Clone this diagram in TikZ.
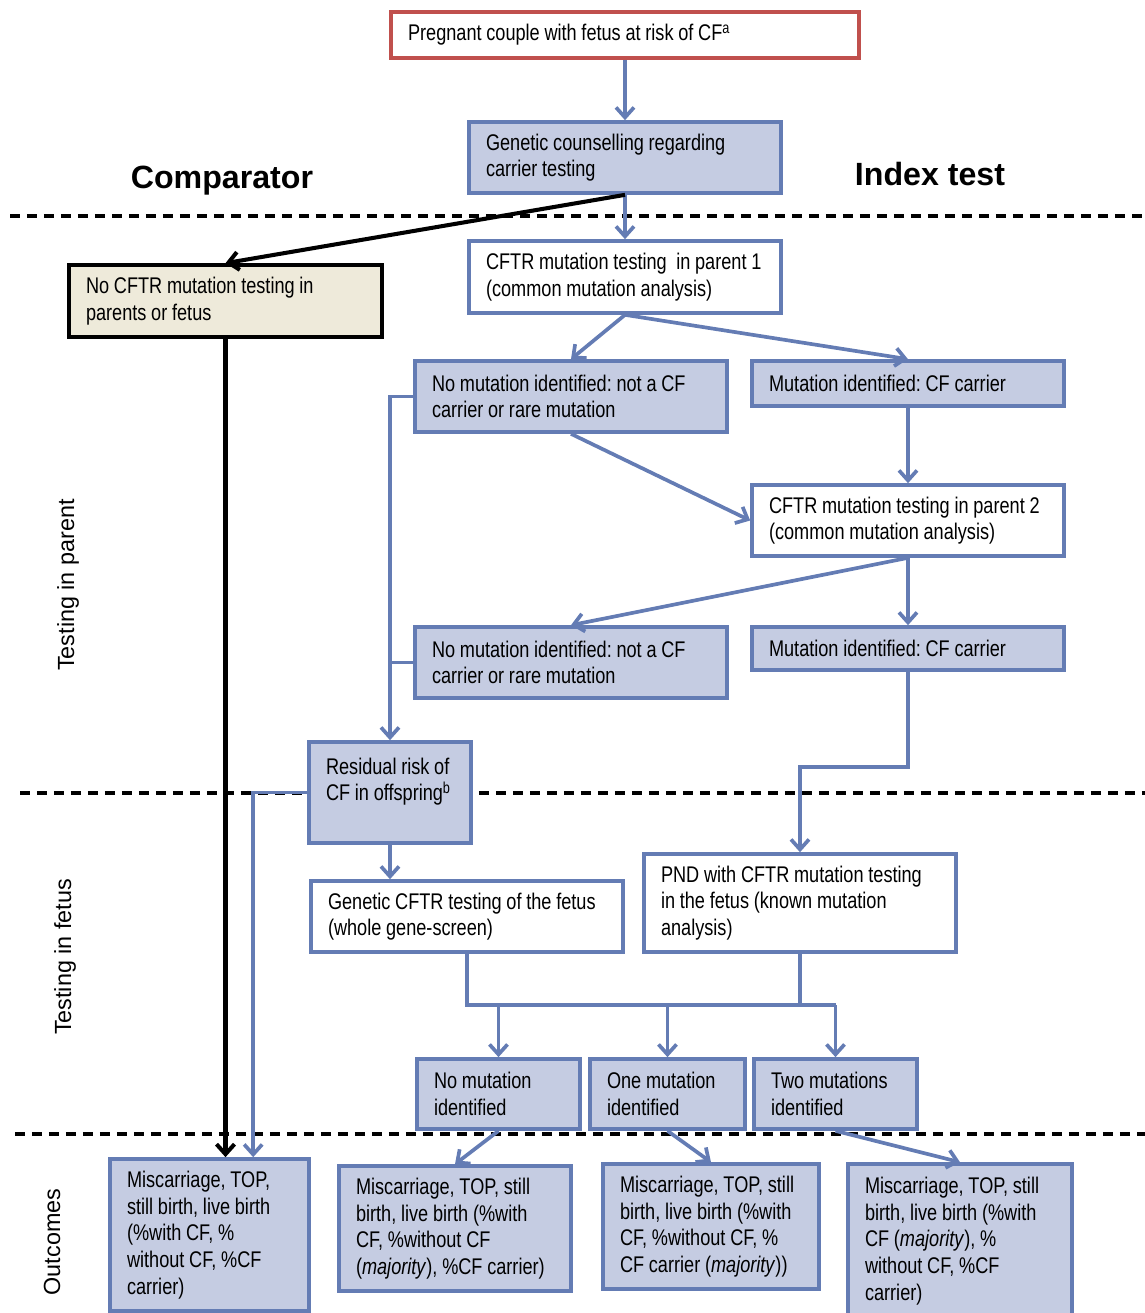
\documentclass[tikz,border=0pt]{standalone}
\usepackage{fontspec}
\setmainfont{Liberation Sans}
\newfontfamily\boxfont[FakeStretch=0.8]{Liberation Sans}
\usetikzlibrary{arrows.meta,positioning,calc}

\definecolor{cfblue}{RGB}{100,124,180}
\definecolor{cffill}{RGB}{197,204,226}
\definecolor{cfred}{RGB}{192,80,77}
\definecolor{cfbeige}{RGB}{238,234,218}

\begin{document}
\begin{tikzpicture}[
  x=0.02cm, y=-0.02cm,
  >={Straight Barb[length=0.2cm,width=0.36cm]},
  box/.style={draw=cfblue, line width=2.1pt, align=left, inner xsep=0.34cm, inner ysep=0pt,
    font=\boxfont\fontsize{12.9}{15.2}\selectfont,
    execute at begin node={\frenchspacing\spaceskip=2.7pt plus 1pt\relax}},
  shaded/.style={box, fill=cffill},
  plain/.style={box, fill=white},
  conn/.style={draw=cfblue, line width=2.1pt},
  bconn/.style={draw=black, line width=2.3pt},
  divider/.style={draw=black, line width=1.9pt, dash pattern=on 0.21cm off 0.13cm},
  title/.style={font=\bfseries\fontsize{18.3}{22}\selectfont},
  side/.style={font=\fontsize{13.3}{16}\selectfont, rotate=90}
]
\useasboundingbox (0,0) rectangle (1145,1313);

% section dividers
\draw[divider] (10,216) -- (1145,216);
\draw[divider] (20,793) -- (1145,793);
\draw[divider] (15,1134) -- (1145,1134);

\node[title] (comp) at (222,181) {Comparator};
\node[title] (index) at (930,174) {Index test};
\node[side] (lblparent) at (68,585) {Testing in parent};
\node[side] (lblfetus) at (65,957) {Testing in fetus};
\node[side] (lbloutcomes) at (52,1242) {Outcomes};

% parents
\node[box, draw=cfred, fill=white, text width=8.68cm, minimum height=0.92cm] (couple) at (625,35)
  {Pregnant couple with fetus at risk of CF\textsuperscript{a}};
\node[shaded, text width=5.56cm, minimum height=1.42cm] (counsel) at (625,157.5)
  {Genetic counselling regarding\\carrier testing};
\node[plain, text width=5.56cm, minimum height=1.44cm] (parent1) at (625,277)
  {CFTR mutation testing \ in parent 1\\(common mutation analysis)};
\node[box, draw=black, fill=cfbeige, text width=5.58cm, minimum height=1.44cm] (notest) at (225.5,301)
  {No CFTR mutation testing in\\parents or fetus};
\node[shaded, text width=5.56cm, minimum height=1.42cm] (nomut1) at (571,396.5)
  {No mutation identified: not a CF\\carrier or rare mutation};
\node[shaded, text width=5.56cm, minimum height=0.9cm] (carrier1) at (908,383.5)
  {Mutation identified: CF carrier};
\node[plain, text width=5.56cm, minimum height=1.42cm] (parent2) at (908,520.5)
  {CFTR mutation testing in parent 2\\(common mutation analysis)};
\node[shaded, text width=5.56cm, minimum height=1.42cm] (nomut2) at (571,662.5)
  {No mutation identified: not a CF\\carrier or rare mutation};
\node[shaded, text width=5.56cm, minimum height=0.86cm] (carrier2) at (908,648.5)
  {Mutation identified: CF carrier};
\node[shaded, text width=2.56cm, minimum height=2.02cm] (residual) at (390,792.5)
  {Residual~risk~of\\CF~in~offspring\textsuperscript{b}\\\mbox{}};

% fetus
\node[plain, text width=5.56cm, minimum height=1.42cm] (wholegene) at (467,916.5)
  {Genetic CFTR testing of the fetus\\(whole gene-screen)};
\node[plain, text width=5.56cm, minimum height=1.96cm] (pnd) at (800,903)
  {PND with CFTR mutation testing\\in the fetus (known mutation\\analysis)};
\node[shaded, text width=2.58cm, minimum height=1.4cm] (zero) at (498.5,1094)
  {No mutation\\identified};
\node[shaded, text width=2.42cm, minimum height=1.4cm] (one) at (667.5,1094)
  {One mutation\\identified};
\node[shaded, text width=2.58cm, minimum height=1.4cm] (two) at (835.5,1094)
  {Two mutations\\identified};

% outcomes
\node[shaded, text width=3.3cm, minimum height=3.04cm] (out0) at (209.5,1235)
  {Miscarriage, TOP,\\still birth, live birth\\(\%with CF, \%\\without CF, \%CF\\carrier)};
\node[shaded, text width=3.96cm, minimum height=2.5cm] (out1) at (455,1228.5)
  {Miscarriage,~TOP,~still\\birth, live birth (\%with\\CF, \%without CF\\(\textit{majority}), \%CF carrier)};
\node[shaded, text width=3.64cm, minimum height=2.5cm] (out2) at (711,1226.5)
  {Miscarriage,~TOP,~still\\birth,~live~birth~(\%with\\CF, \%without CF, \%\\CF carrier (\textit{majority}))};
\node[shaded, text width=3.8cm, minimum height=3.08cm] (out3) at (960,1241)
  {Miscarriage,~TOP,~still\\birth,~live~birth~(\%with\\CF (\textit{majority}), \%\\without CF, \%CF\\carrier)};

% connectors
\draw[conn,->] (couple) -- (counsel);
\draw[conn,->] (counsel) -- (parent1);
\draw[bconn,->] (counsel.south) -- (notest.north);
\draw[conn,->] (parent1.south) -- (nomut1.north);
\draw[conn,->] (parent1.south) -- (carrier1.north);
\draw[conn,->] (nomut1.south) -- (parent2.west);
\draw[conn,->] (carrier1) -- (parent2);
\draw[conn,->] (parent2.south) -- (nomut2.north);
\draw[conn,->] (parent2.south) -- (carrier2.north);
\draw[conn,->] (nomut1.west) -| (residual.north);
\draw[conn] (nomut2.west) -- (nomut2.west -| residual.north);
\draw[conn,->] (carrier2.south) -- ++(0,95) -| (pnd.north);
\draw[conn,->] (residual.south) -- (residual.south |- wholegene.north);
\draw[conn,->] (residual.west) -- ++(-54,0) coordinate (bend) -- (bend |- out0.north);
\draw[bconn,->] (notest.south) -- (notest.south |- out0.north);

\coordinate (bus) at (0,1005);
\draw[conn] (wholegene.south) -- (wholegene.south |- bus) -- (two.north |- bus);
\draw[conn] (pnd.south) -- (pnd.south |- bus);
\foreach \n in {zero,one,two}
  \draw[conn,->] (\n.north |- bus) -- (\n.north);

\draw[conn,->] (zero.south) -- (out1.north);
\draw[conn,->] (one.south) -- (out2.north);
\draw[conn,->] (two.south) -- (out3.north);
\end{tikzpicture}
\end{document}
